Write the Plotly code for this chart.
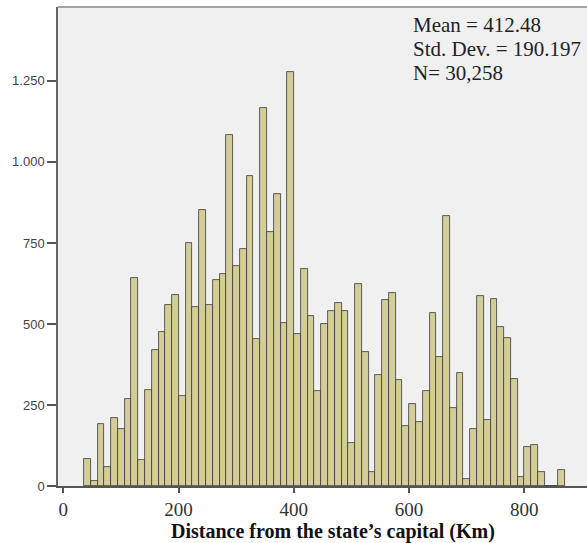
import plotly.graph_objects as go

# Histogram data
bin_start = 36.0
bin_width = 11.76
counts = [82, 15, 191, 60, 211, 175, 270, 643, 80, 296,
          420, 474, 558, 588, 278, 749, 553, 852, 559, 636,
          653, 1082, 680, 730, 957, 453, 1167, 785, 902, 504,
          1278, 468, 670, 525, 294, 500, 541, 565, 540, 132,
          623, 414, 42, 341, 574, 596, 327, 185, 252, 197,
          294, 533, 399, 834, 242, 348, 21, 177, 585, 204,
          576, 490, 456, 330, 27, 121, 127, 42, 0, 0, 49]
centers = [bin_start + (i + 0.5) * bin_width for i in range(len(counts))]

x_tickvals = [0, 200, 400, 600, 800]
x_ticktext = ["0", "200", "400", "600", "800"]
y_tickvals = [0, 250, 500, 750, 1000, 1250]
y_ticktext = ["0", "250", "500", "750", "1.000", "1.250"]

stats_lines = ["Mean = 412.48", "Std. Dev. = 190.197", "N= 30,258"]
x_title = "Distance from the state\u2019s capital (Km)"

fig = go.Figure()
fig.add_trace(go.Bar(
    x=centers, y=counts, width=bin_width,
    marker=dict(color="#d3ce97", line=dict(color="#3a3a3a", width=0.8)),
    showlegend=False, hoverinfo="skip",
))

W, H = 587, 543
L, T, B, R = 58, 7, 57, 0

fig.update_layout(
    width=W, height=H,
    margin=dict(l=L, r=R, t=T, b=B, pad=0),
    paper_bgcolor="white",
    plot_bgcolor="#f0f0f0",
    bargap=0,
    xaxis=dict(
        range=[-9.2, 909], tickvals=x_tickvals, ticktext=x_ticktext,
        showgrid=False, zeroline=False,
        showline=True, linecolor="#555555", linewidth=1.5,
        ticks="outside", ticklen=5, tickwidth=1.5, tickcolor="#555555",
        tickfont=dict(family="Liberation Serif", size=19, color="#333333"),
    ),
    yaxis=dict(
        range=[0, 1478], tickvals=y_tickvals, ticktext=y_ticktext,
        showgrid=False, zeroline=False,
        showline=True, linecolor="#666666", linewidth=1.5,
        ticks="outside", ticklen=9, tickwidth=1.5, tickcolor="#555555",
        tickfont=dict(family="Liberation Sans", size=13, color="#444444"),
    ),
    shapes=[dict(type="line", xref="paper", yref="paper", x0=0, x1=1, y0=1, y1=1,
                 line=dict(color="#888888", width=1.5))],
)

ys = [0.9624, 0.9123, 0.8622]
for txt, yy in zip(stats_lines, ys):
    fig.add_annotation(text=txt, xref="paper", yref="paper", x=0.667, y=yy,
                       xanchor="left", yanchor="middle", showarrow=False,
                       font=dict(family="Liberation Serif", size=21, color="#222222"))

fig.add_annotation(text="<b>" + x_title + "</b>", xref="paper", yref="paper",
                   x=0.52, y=-0.0945, xanchor="center", yanchor="middle", showarrow=False,
                   borderpad=0,
                   font=dict(family="Liberation Serif", size=20, color="#111111"))

fig.write_html("out.html", config={"displayModeBar": False},
               post_script="document.body.style.margin='0';document.body.style.overflow='hidden';")
